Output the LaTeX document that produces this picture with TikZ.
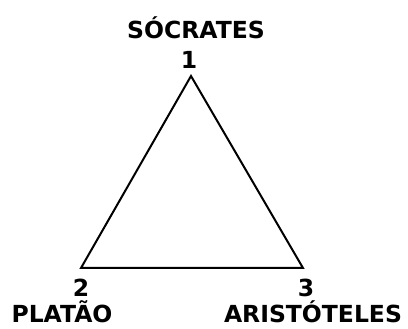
\documentclass[tikz,border=0pt]{standalone}
\usepackage{fontspec}
\setmainfont{DejaVu Sans}
\usepackage{tikz}

\begin{document}
\begin{tikzpicture}[x=1pt,y=-1pt]
\tikzstyle{every node}+=[inner sep=0pt]
\tikzstyle{lbl}=[anchor=base,font=\fontsize{23.5}{23.5}\selectfont\bfseries]
\useasboundingbox (0,0) rectangle (408,329);
\coordinate (v1) at (191,76);
\coordinate (v2) at (81,268);
\coordinate (v3) at (303,268);
\draw [black,line width=2pt,line join=miter] (v1) -- (v2) -- (v3) -- cycle;
\node [lbl] (s1) at (196,39) {SÓCRATES};
\node [lbl] (n1) at (189,69) {1};
\node [lbl] (n2) at (81,297) {2};
\node [lbl] (s2) at (62,323) {PLATÃO};
\node [lbl] (n3) at (306,297) {3};
\node [lbl] (s3) at (313,323) {ARISTÓTELES};
\end{tikzpicture}
\end{document}
